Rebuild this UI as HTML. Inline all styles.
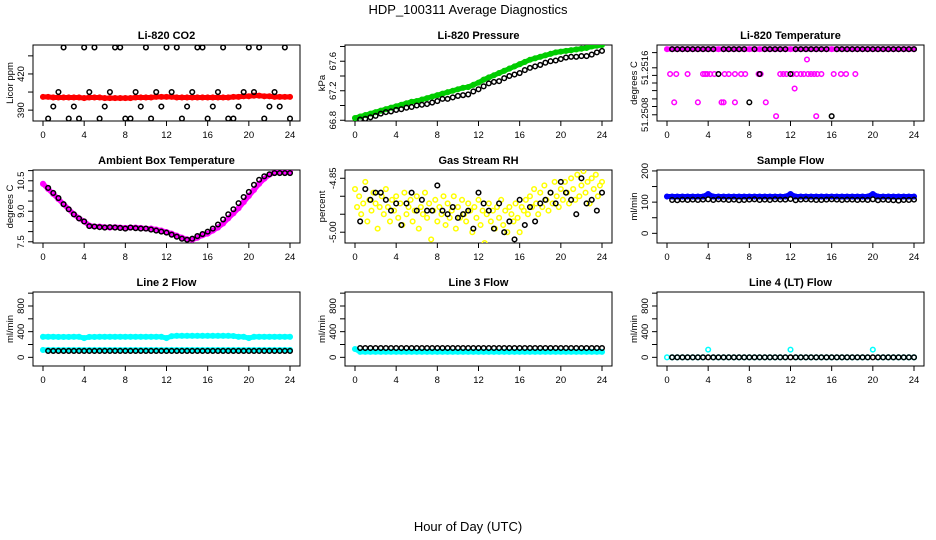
<!DOCTYPE html>
<html><head><meta charset="utf-8"><style>
body{margin:0;background:#fff;}
svg{display:block;font-family:"Liberation Sans",Arial,sans-serif;}
</style></head><body>
<svg id="c" width="936" height="540">
<text x="468" y="14" text-anchor="middle" font-size="13">HDP_100311  Average Diagnostics</text>
<text x="468" y="531" text-anchor="middle" font-size="13">Hour of Day (UTC)</text>
</svg>
<script>
const hoursBlack=[0.5,1,1.5,2,2.5,3,3.5,4,4.5,5,5.5,6,6.5,7,7.5,8,8.5,9,9.5,10,10.5,11,11.5,12,12.5,13,13.5,14,14.5,15,15.5,16,16.5,17,17.5,18,18.5,19,19.5,20,20.5,21,21.5,22,22.5,23,23.5,24];
const hoursDense=[0,0.5,1,1.5,2,2.5,3,3.5,4,4.5,5,5.5,6,6.5,7,7.5,8,8.5,9,9.5,10,10.5,11,11.5,12,12.5,13,13.5,14,14.5,15,15.5,16,16.5,17,17.5,18,18.5,19,19.5,20,20.5,21,21.5,22,22.5,23,23.5,24];
const xTicks=[0,4,8,12,16,20,24];
// CO2
const co2Red=[401,401,400.5,400.5,400.5,400.5,400.5,400.5,400,400.5,400.5,400.5,400,400,400,400,400,400,400.5,400.5,400.5,400.5,401,401,401,401,400.5,400.5,400.5,400.5,400.5,400.5,400.5,400.5,400.5,400.5,400.5,401,401,401.5,401.5,402,402,401.5,401.5,401,401,401,401];
const co2Black=[383,393,405,442,383,393,383,442,405,442,383,393,405,442,442,383,383,405,393,442,383,405,393,442,405,442,383,393,405,442,442,383,393,405,442,383,383,393,405,442,405,442,383,393,405,393,442,383];
// Pressure
const presGreen=[66.83,66.85,66.87,66.89,66.91,66.93,66.95,66.97,66.99,67.01,67.03,67.05,67.06,67.08,67.1,67.12,67.14,67.16,67.18,67.2,67.22,67.24,67.25,67.28,67.31,67.35,67.38,67.41,67.44,67.47,67.5,67.53,67.56,67.59,67.62,67.64,67.66,67.68,67.7,67.72,67.73,67.74,67.75,67.76,67.77,67.78,67.8,67.81,67.82];
const presBlack=[66.81,66.82,66.84,66.86,66.89,66.91,66.92,66.94,66.95,66.97,66.98,67.0,67.01,67.02,67.04,67.06,67.09,67.09,67.11,67.13,67.14,67.15,67.19,67.22,67.26,67.3,67.32,67.33,67.37,67.4,67.42,67.44,67.48,67.51,67.53,67.55,67.58,67.6,67.61,67.63,67.65,67.66,67.66,67.67,67.67,67.69,67.72,67.74];
// Li-820 temperature
const tempTop=[51.2517,51.2517,51.2517,51.2517,51.2517,51.2517,51.2517,51.2517,51.2517,51.2517,51.2517,51.2517,51.2517,51.2517,51.2517,51.2517,51.2517,51.2517,51.2517,51.2517,51.2517,51.2517,51.2517,51.2517,51.2517,51.2517,51.2517,51.2517,51.2517,51.2517,51.2517,51.2517,51.2517,51.2517,51.2517,51.2517,51.2517,51.2517,51.2517,51.2517,51.2517,51.2517,51.2517,51.2517,51.2517,51.2517,51.2517,51.2517,51.2517];
const tempMagHours=[0.3,0.9,2.0,3.5,3.7,3.9,4.2,4.6,5.0,5.6,6.0,6.6,7.2,7.6,8.9,9.1,11.0,11.3,11.6,12.2,12.6,13.0,13.3,13.7,14.0,14.3,14.6,15.0,16.2,16.9,17.4,18.3,0.7,3.0,5.3,5.5,6.6,9.6,12.4,13.6,10.6,14.5];
const tempMagVals=[51.25134,51.25134,51.25134,51.25134,51.25134,51.25134,51.25134,51.25134,51.25134,51.25134,51.25134,51.25134,51.25134,51.25134,51.25134,51.25134,51.25134,51.25134,51.25134,51.25134,51.25134,51.25134,51.25134,51.25134,51.25134,51.25134,51.25134,51.25134,51.25134,51.25134,51.25134,51.25134,51.25093,51.25093,51.25093,51.25093,51.25093,51.25093,51.25113,51.25155,51.25073,51.25073];
const tempBlack=[51.2517,51.2517,51.2517,51.2517,51.2517,51.2517,51.2517,51.2517,51.2517,51.25134,51.2517,51.2517,51.2517,51.2517,51.2517,51.25093,51.2517,51.25134,51.2517,51.2517,51.2517,51.2517,51.2517,51.25134,51.2517,51.2517,51.2517,51.2517,51.2517,51.2517,51.2517,51.25073,51.2517,51.2517,51.2517,51.2517,51.2517,51.2517,51.2517,51.2517,51.2517,51.2517,51.2517,51.2517,51.2517,51.2517,51.2517,51.2517];
// Ambient box temperature
const ambMag=[10.35,10.1,9.85,9.6,9.35,9.1,8.85,8.65,8.5,8.3,8.25,8.25,8.22,8.2,8.22,8.2,8.18,8.2,8.2,8.18,8.15,8.15,8.1,8.05,7.98,7.9,7.8,7.7,7.62,7.6,7.7,7.82,7.9,8.05,8.2,8.4,8.65,8.9,9.15,9.45,9.75,10.05,10.35,10.6,10.8,10.9,10.95,10.95,10.93];
const ambBlack=[10.15,9.9,9.65,9.35,9.1,8.85,8.65,8.5,8.27,8.25,8.22,8.2,8.22,8.2,8.18,8.15,8.2,8.17,8.15,8.15,8.1,8.05,8.0,7.95,7.85,7.75,7.65,7.6,7.65,7.78,7.88,8.0,8.15,8.35,8.6,8.85,9.1,9.4,9.7,9.95,10.3,10.55,10.72,10.82,10.88,10.88,10.88,10.88];
// Gas stream RH
const rhYellowHours=[0,0.2,0.4,0.6,0.8,1.0,1.2,1.4,1.6,1.8,2.0,2.2,2.4,2.6,2.8,3.0,3.2,3.4,3.6,3.8,4.0,4.2,4.4,4.6,4.8,5.0,5.2,5.4,5.6,5.8,6.0,6.2,6.4,6.6,6.8,7.0,7.2,7.4,7.6,7.8,8.0,8.2,8.4,8.6,8.8,9.0,9.2,9.4,9.6,9.8,10.0,10.2,10.4,10.6,10.8,11.0,11.2,11.4,11.6,11.8,12.0,12.2,12.4,12.6,12.8,13.0,13.2,13.4,13.6,13.8,14.0,14.2,14.4,14.6,14.8,15.0,15.2,15.4,15.6,15.8,16.0,16.2,16.4,16.6,16.8,17.0,17.2,17.4,17.6,17.8,18.0,18.2,18.4,18.6,18.8,19.0,19.2,19.4,19.6,19.8,20.0,20.2,20.4,20.6,20.8,21.0,21.2,21.4,21.6,21.8,22.0,22.2,22.4,22.6,22.8,23.0,23.2,23.4,23.6,23.8,24.0];
const rhYellow=[-4.88,-4.93,-4.9,-4.95,-4.92,-4.86,-4.97,-4.91,-4.94,-4.89,-4.92,-4.99,-4.93,-4.9,-4.95,-4.88,-4.93,-4.97,-4.91,-4.94,-4.9,-4.96,-4.92,-4.98,-4.89,-4.95,-4.93,-4.91,-4.97,-4.94,-4.9,-4.99,-4.93,-4.95,-4.89,-4.96,-4.92,-5.02,-4.94,-4.91,-4.97,-4.93,-4.95,-4.9,-4.98,-4.92,-4.96,-4.94,-4.9,-4.99,-4.93,-4.96,-4.91,-4.95,-4.97,-4.92,-4.94,-5.0,-4.93,-4.96,-4.91,-4.98,-4.94,-5.03,-4.95,-4.92,-4.97,-4.94,-4.99,-4.93,-4.96,-4.91,-4.98,-4.94,-5.0,-4.93,-4.95,-4.97,-4.92,-4.96,-5.0,-4.93,-4.94,-4.91,-4.95,-4.9,-4.93,-4.88,-4.92,-4.95,-4.89,-4.93,-4.87,-4.91,-4.94,-4.89,-4.92,-4.86,-4.9,-4.93,-4.88,-4.91,-4.86,-4.89,-4.92,-4.85,-4.88,-4.91,-4.84,-4.9,-4.87,-4.83,-4.89,-4.86,-4.92,-4.85,-4.88,-4.84,-4.9,-4.87,-4.86];
const rhBlack=[-4.97,-4.88,-4.91,-4.89,-4.89,-4.91,-4.94,-4.92,-4.98,-4.92,-4.89,-4.94,-4.91,-4.94,-4.94,-4.87,-4.94,-4.95,-4.93,-4.96,-4.95,-4.94,-4.99,-4.89,-4.92,-4.94,-4.99,-4.92,-5.0,-4.97,-5.02,-4.91,-4.98,-4.93,-4.97,-4.92,-4.91,-4.89,-4.92,-4.86,-4.89,-4.91,-4.95,-4.85,-4.92,-4.91,-4.94,-4.89];
// Sample flow
const sfBlue=[118,118,118,118,118,118,118,118,126,118,118,118,118,118,118,118,118,118,118,118,118,118,118,118,126,118,118,118,118,118,118,118,118,118,118,118,118,118,118,118,126,118,118,118,118,118,118,118,118];
const sfBlack=[107,106,108,107,108,107,108,109,107,109,108,107,108,106,107,108,109,107,108,107,109,108,108,110,106,108,109,108,107,107,108,109,108,107,108,108,107,108,107,109,106,108,107,106,105,107,107,108];
// Line 2 flow
const l2CyanA=[320,320,320,318,318,318,320,320,300,318,318,320,320,320,320,320,320,320,320,320,320,320,320,320,300,330,335,335,335,335,335,335,335,335,335,335,335,332,320,320,300,320,320,320,320,320,320,320,320];
const l2CyanB=[115,115,115,115,115,115,115,115,115,115,115,115,115,115,115,115,115,115,115,115,115,115,115,115,115,115,115,115,115,115,115,115,115,115,115,115,115,115,115,115,115,115,115,115,115,115,115,115,115];
const l2Black=[100,100,100,100,100,100,100,100,100,100,100,100,100,100,100,100,100,100,100,100,100,100,100,100,100,100,100,100,100,100,100,100,100,100,100,100,100,100,100,100,100,100,100,100,100,100,100,100];
// Line 3 flow
const l3Cyan=[130,85,85,85,85,85,85,85,85,85,85,85,85,85,85,85,85,85,85,85,85,85,85,85,85,85,85,85,85,85,85,85,85,85,85,85,85,85,85,85,85,85,85,85,85,85,85,85,85];
const l3Black=[145,145,145,145,145,145,145,145,145,145,145,145,145,145,145,145,145,145,145,145,145,145,145,145,145,145,145,145,145,145,145,145,145,145,145,145,145,145,145,145,145,145,145,145,145,145,145,145];
// Line 4 flow
const l4Cyan=[0,0,0,0,0,0,0,0,120,0,0,0,0,0,0,0,0,0,0,0,0,0,0,0,120,0,0,0,0,0,0,0,0,0,0,0,0,0,0,0,120,0,0,0,0,0,0,0,0];
const l4Black=[0,0,0,0,0,0,0,0,0,0,0,0,0,0,0,0,0,0,0,0,0,0,0,0,0,0,0,0,0,0,0,0,0,0,0,0,0,0,0,0,0,0,0,0,0,0,0,0];

const svg=document.getElementById('c');
const NS='http://www.w3.org/2000/svg';
function mk(tag,attrs,parent){const e=document.createElementNS(NS,tag);for(const k in attrs)e.setAttribute(k,attrs[k]);(parent||svg).appendChild(e);return e;}
const colX=[[33,300],[345,612],[657,924]];
const rowY=[[45,121],[170,243],[292,366]];

function panel(c,r,name,title,ylab,ymin,ymax,ticks,labelled,labels,layers){
  const g=mk('g',{});
  
  
  const [L,R]=colX[c],[T,B]=rowY[r];
  const x=h=>L+10+(R-L-20)*h/24;
  const y=v=>B-(v-ymin)/(ymax-ymin)*(B-T);
  const t=mk('text',{x:(L+R)/2,y:T-6,'text-anchor':'middle','font-size':'11','font-weight':'bold'},g);
  t.textContent=title;
  
  
  const box=mk('rect',{x:L,y:T,width:R-L,height:B-T,fill:'none',stroke:'#000','stroke-width':1},g);
  
  
  const xa=mk('g',{},g);
  
  
  mk('line',{x1:x(0),x2:x(24),y1:B,y2:B,stroke:'#000'},xa);
  xTicks.forEach(h=>{mk('line',{x1:x(h),x2:x(h),y1:B,y2:B+5,stroke:'#000'},xa);
    const tl=mk('text',{x:x(h),y:B+17,'text-anchor':'middle','font-size':'9.5'},xa);tl.textContent=h;
    
    });
  const ya=mk('g',{},g);
  
  
  mk('line',{x1:L,x2:L,y1:y(ticks[0]),y2:y(ticks[ticks.length-1]),stroke:'#000'},ya);
  ticks.forEach(v=>mk('line',{x1:L-5,x2:L,y1:y(v),y2:y(v),stroke:'#000'},ya));
  labelled.forEach((v,i)=>{const tl=mk('text',{x:L-9,y:y(v),'text-anchor':'middle','font-size':'9.5',transform:`rotate(-90 ${L-9} ${y(v)})`},ya);tl.textContent=labels[i];
    
    });
  const yl=mk('text',{x:L-20,y:(T+B)/2,'text-anchor':'middle','font-size':'9.5',transform:`rotate(-90 ${L-20} ${(T+B)/2})`},ya);
  yl.textContent=ylab;
  
  
  const clip='clip'+c+r;
  const cp=mk('clipPath',{id:clip},g);mk('rect',{x:L,y:T,width:R-L,height:B-T},cp);
  const pg=mk('g',{'clip-path':`url(#${clip})`},g);
  layers.forEach(ly=>{
    const sg=mk('g',{},pg);
    
    
    if(ly.dense){
      const pts=ly.hours.map((h,i)=>x(h)+','+y(ly.vals[i])).join(' ');
      mk('polyline',{points:pts,fill:'none',stroke:ly.color,'stroke-width':5,'stroke-linejoin':'round','stroke-linecap':'round'},sg);
    }
    ly.hours.forEach((h,i)=>{const p=mk('circle',{cx:x(h),cy:y(ly.vals[i]),r:2.3,fill:'none',stroke:ly.color,'stroke-width':1.5},sg);
      
      });
  });
}
panel(0,0,'co2','Li-820 CO2','Licor ppm',381,444,[390,405,420,435],[390,420],['390','420'],[
 {name:'co2-red',hours:hoursDense,vals:co2Red,color:'#ff0000',dense:true},
 {name:'co2-black',hours:hoursBlack,vals:co2Black,color:'#000'}]);
panel(1,0,'pressure','Li-820 Pressure','kPa',66.79,67.82,[66.8,67.0,67.2,67.4,67.6,67.8],[66.8,67.2,67.6],['66.8','67.2','67.6'],[
 {name:'pressure-green',hours:hoursDense,vals:presGreen,color:'#00cc00',dense:true},
 {name:'pressure-black',hours:hoursBlack,vals:presBlack,color:'#000'}]);
panel(2,0,'li820-temp','Li-820 Temperature','degrees C',51.25066,51.25176,[51.25075,51.25087,51.25098,51.2511,51.25121,51.25132,51.25143,51.25165],[51.25075,51.25143],['51.2508','51.2516'],[
 {name:'temp-magenta-top',hours:hoursDense,vals:tempTop,color:'#ff00ff',dense:true},
 {name:'temp-magenta',hours:tempMagHours,vals:tempMagVals,color:'#ff00ff'},
 {name:'temp-black',hours:hoursBlack,vals:tempBlack,color:'#000'}]);
panel(0,1,'ambient','Ambient Box Temperature','degrees C',7.44,11.03,[7.5,8.0,8.5,9.0,9.5,10.0,10.5,11.0],[7.5,9.0,10.5],['7.5','9.0','10.5'],[
 {name:'ambient-magenta',hours:hoursDense,vals:ambMag,color:'#ff00ff',dense:true},
 {name:'ambient-black',hours:hoursBlack,vals:ambBlack,color:'#000'}]);
panel(1,1,'rh','Gas Stream RH','percent',-5.03,-4.827,[-5.0,-4.95,-4.9,-4.85],[-5.0,-4.85],['-5.00','-4.85'],[
 {name:'rh-yellow',hours:rhYellowHours,vals:rhYellow,color:'#ffff00'},
 {name:'rh-black',hours:hoursBlack,vals:rhBlack,color:'#000'}]);
panel(2,1,'sample-flow','Sample Flow','ml/min',-31,203,[0,50,100,150,200],[0,100,200],['0','100','200'],[
 {name:'sample-flow-blue',hours:hoursDense,vals:sfBlue,color:'#0000ff',dense:true},
 {name:'sample-flow-black',hours:hoursBlack,vals:sfBlack,color:'#000'}]);
const fT=[0,200,400,600,800,1000];
panel(0,2,'line2','Line 2 Flow','ml/min',-135,1018,fT,[0,400,800],['0','400','800'],[
 {name:'line2-cyan-a',hours:hoursDense,vals:l2CyanA,color:'#00ffff',dense:true},
 {name:'line2-cyan-b',hours:hoursDense,vals:l2CyanB,color:'#00ffff',dense:true},
 {name:'line2-black',hours:hoursBlack,vals:l2Black,color:'#000'}]);
panel(1,2,'line3','Line 3 Flow','ml/min',-135,1018,fT,[0,400,800],['0','400','800'],[
 {name:'line3-cyan',hours:hoursDense,vals:l3Cyan,color:'#00ffff',dense:true},
 {name:'line3-black',hours:hoursBlack,vals:l3Black,color:'#000'}]);
panel(2,2,'line4','Line 4 (LT) Flow','ml/min',-135,1018,fT,[0,400,800],['0','400','800'],[
 {name:'line4-cyan',hours:hoursDense,vals:l4Cyan,color:'#00ffff'},
 {name:'line4-black',hours:hoursBlack,vals:l4Black,color:'#000'}]);
</script>
</body></html>
